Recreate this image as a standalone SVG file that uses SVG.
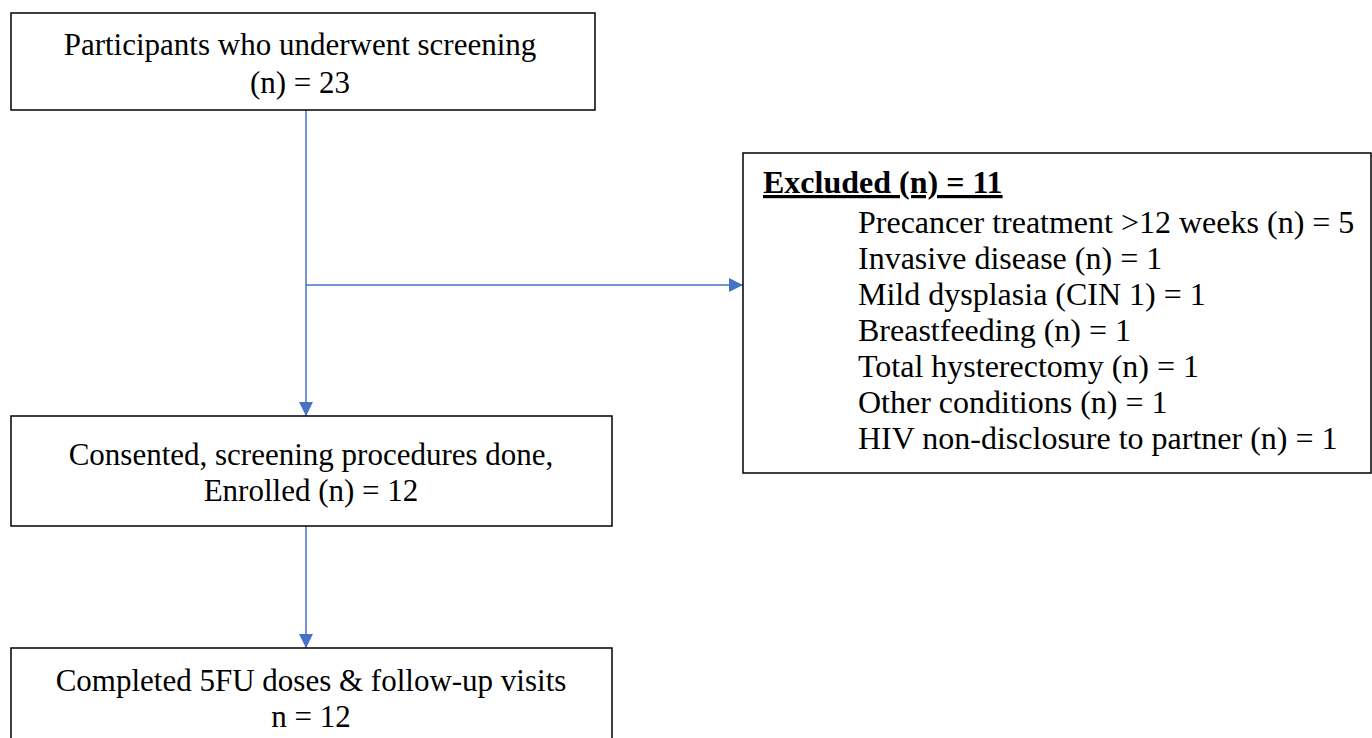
<svg xmlns="http://www.w3.org/2000/svg" width="1372" height="738" viewBox="0 0 1372 738">
<style>
.box{fill:#fff;stroke:#000;stroke-width:1.5}
.t{font-family:"Liberation Serif","Times New Roman",serif;font-size:31px;fill:#000}
.x{font-size:32px}
.c{text-anchor:middle}
.conn{stroke:#4472C4;stroke-width:1.5;fill:none}
</style>
<defs>
<marker id="ah" markerWidth="14" markerHeight="14" refX="14" refY="7" orient="auto" markerUnits="userSpaceOnUse" viewBox="0 0 14 14">
<path d="M0,0 L14,7 L0,14 Z" fill="#4472C4"/>
</marker>
</defs>
<rect width="1372" height="738" fill="#fff"/>
<g id="connectors">
<line class="conn" x1="306" y1="110" x2="306" y2="416" marker-end="url(#ah)"/>
<line class="conn" x1="306" y1="285" x2="743" y2="285" marker-end="url(#ah)"/>
<line class="conn" x1="306" y1="526" x2="306" y2="648" marker-end="url(#ah)"/>
</g>
<g id="screened">
<rect class="box" x="11" y="13" width="584" height="97"/>
<text class="t c" x="300" y="55">Participants who underwent screening</text>
<text class="t c" x="300" y="93">(n) = 23</text>
</g>
<g id="excluded">
<rect class="box" x="743" y="153" width="628" height="320"/>
<text class="t x" x="763" y="193" font-weight="bold" text-decoration="underline">Excluded (n) = 11</text>
<text class="t x" x="858" y="233">Precancer treatment &gt;12 weeks (n) = 5</text>
<text class="t x" x="858" y="269">Invasive disease (n) = 1</text>
<text class="t x" x="858" y="305">Mild dysplasia (CIN 1) = 1</text>
<text class="t x" x="858" y="341">Breastfeeding (n) = 1</text>
<text class="t x" x="858" y="377">Total hysterectomy (n) = 1</text>
<text class="t x" x="858" y="413">Other conditions (n) = 1</text>
<text class="t x" x="858" y="449">HIV non-disclosure to partner (n) = 1</text>
</g>
<g id="enrolled">
<rect class="box" x="11" y="416" width="601" height="110"/>
<text class="t c" x="311" y="465">Consented, screening procedures done,</text>
<text class="t c" x="311" y="501">Enrolled (n) = 12</text>
</g>
<g id="completed">
<rect class="box" x="11" y="648" width="601" height="100"/>
<text class="t c" x="311" y="691">Completed 5FU doses &amp; follow-up visits</text>
<text class="t c" x="311" y="727">n = 12</text>
</g>
</svg>
